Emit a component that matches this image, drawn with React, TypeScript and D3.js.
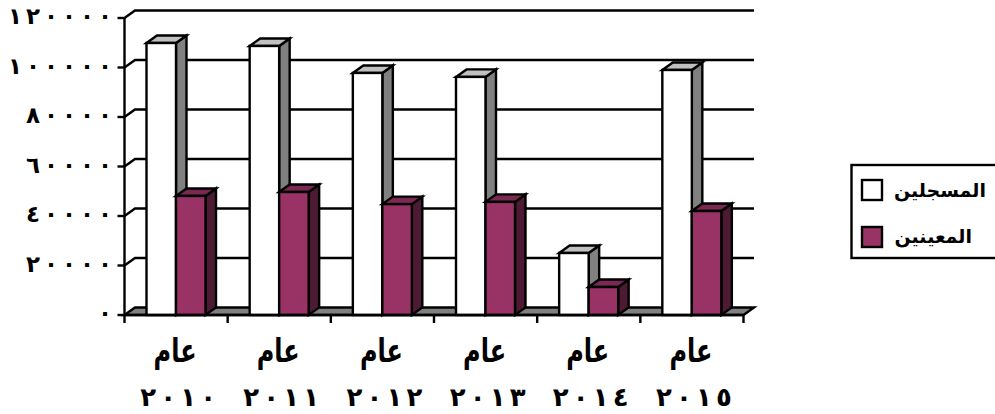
import React from "react";
import * as d3 from "d3";

const years = ["٢٠١٠", "٢٠١١", "٢٠١٢", "٢٠١٣", "٢٠١٤", "٢٠١٥"];
const yearPrefix = "عام";
const registered = [109900, 108700, 97800, 96200, 25050, 99000];
const appointed = [48100, 49700, 44800, 45700, 11300, 42000];
const yTicks = [0, 20000, 40000, 60000, 80000, 100000, 120000];
const yTickLabels = ["٠", "٢٠٠٠٠", "٤٠٠٠٠", "٦٠٠٠٠", "٨٠٠٠٠", "١٠٠٠٠٠", "١٢٠٠٠٠"];
const legendLabels = ["المسجلين", "المعينين"];

const W = 995, H = 414;
const DX = 10.5, DY = 7.5;
const SW = 2.4;
const x = d3.scaleBand<string>().domain(years).range([124.5, 743.5]).paddingInner(0).paddingOuter(0);
const y = d3.scaleLinear().domain([0, 120000]).range([315, 18]);
const BW = 29.5;
const OFF = 22;
const line = d3.line();
const poly = (p: [number, number][]) => line(p)! + "Z";
const FONT = "'DejaVu Sans', 'Noto Sans', sans-serif";

function Bar({ x0, v, front, top, side }: { x0: number; v: number; front: string; top: string; side: string }) {
  const x1 = x0 + BW, y0 = y(0), yt = y(v);
  return (
    <g stroke="#000" strokeWidth={SW} strokeLinejoin="miter">
      <path d={poly([[x1, yt], [x1 + DX, yt - DY], [x1 + DX, y0 - DY], [x1, y0]])} fill={side} />
      <path d={poly([[x0, yt], [x0 + DX, yt - DY], [x1 + DX, yt - DY], [x1, yt]])} fill={top} />
      <rect x={x0} y={yt} width={BW} height={y0 - yt} fill={front} />
    </g>
  );
}

export default function App() {
  const [xL, xR] = x.range();
  const y0 = y(0);
  return (
    <svg width={W} height={H} style={{ position: "fixed", left: 0, top: 0, background: "#fff" }}>
      {yTicks.filter((t) => t > 0).map((t) => (
        <path key={t} fill="none" stroke="#000" strokeWidth={SW}
          d={line([[xL, y(t)], [xL + DX, y(t) - DY], [xR + DX, y(t) - DY]])!} />
      ))}
      <path d={poly([[xL, y0], [xL + DX, y0 - DY], [xR + DX, y0 - DY], [xR, y0]])} fill="#808080" stroke="#000" strokeWidth={SW} />
      {years.map((c, i) => (
        <g key={c}>
          <Bar x0={x(c)! + OFF} v={registered[i]} front="#fff" top="#c0c0c0" side="#808080" />
          <Bar x0={x(c)! + OFF + BW} v={appointed[i]} front="#993366" top="#7a2952" side="#4d1a33" />
        </g>
      ))}
      <path d={`M${xL},${y(120000)}V${y0}H${xR}`} fill="none" stroke="#000" strokeWidth={SW} />
      {yTicks.map((t) => (
        <line key={t} x1={xL - 7} x2={xL} y1={y(t)} y2={y(t)} stroke="#000" strokeWidth={SW} />
      ))}
      {[...years.map((c) => x(c)!), xR].map((v) => (
        <line key={v} x1={v} x2={v} y1={y0} y2={y0 + 8} stroke="#000" strokeWidth={SW} />
      ))}
      {yTicks.map((t, i) => {
        const digits = Array.from(yTickLabels[i]);
        return (
          <text key={t} y={y(t) + 6} textAnchor="middle" fontFamily={FONT} fontWeight="bold" fontSize={23} fill="#000">
            {digits.map((d, k) => (
              <tspan key={k} x={105 - (digits.length - 1 - k) * 18}>{d}</tspan>
            ))}
          </text>
        );
      })}
      {years.map((c) => {
        const cx = x(c)! + x.bandwidth() / 2;
        return (
          <g key={c} fontFamily={FONT} fontWeight="bold" textAnchor="middle" fill="#000">
            <text transform={`translate(${cx - 1},362) scale(1,1.35)`} fontSize={24}>{yearPrefix}</text>
            <text y={406} fontSize={26}>
              {Array.from(c).map((d, k) => (
                <tspan key={k} x={cx + 2 + (k - 1.5) * 20}>{d}</tspan>
              ))}
            </text>
          </g>
        );
      })}
      <rect x={851.5} y={165} width={150} height={93} fill="#fff" stroke="#000" strokeWidth={SW} />
      {legendLabels.map((l, i) => (
        <g key={l}>
          <rect x={862} y={180 + i * 47} width={20} height={20} stroke="#000" strokeWidth={SW}
            fill={i === 0 ? "#fff" : "#993366"} />
          <text x={i === 0 ? 986 : 972} y={197 + i * 46} textAnchor="start" fontFamily={FONT} fontWeight="bold" fontSize={19} fill="#000"
            direction="rtl" style={{ direction: "rtl" }}>{l}</text>
        </g>
      ))}
    </svg>
  );
}
